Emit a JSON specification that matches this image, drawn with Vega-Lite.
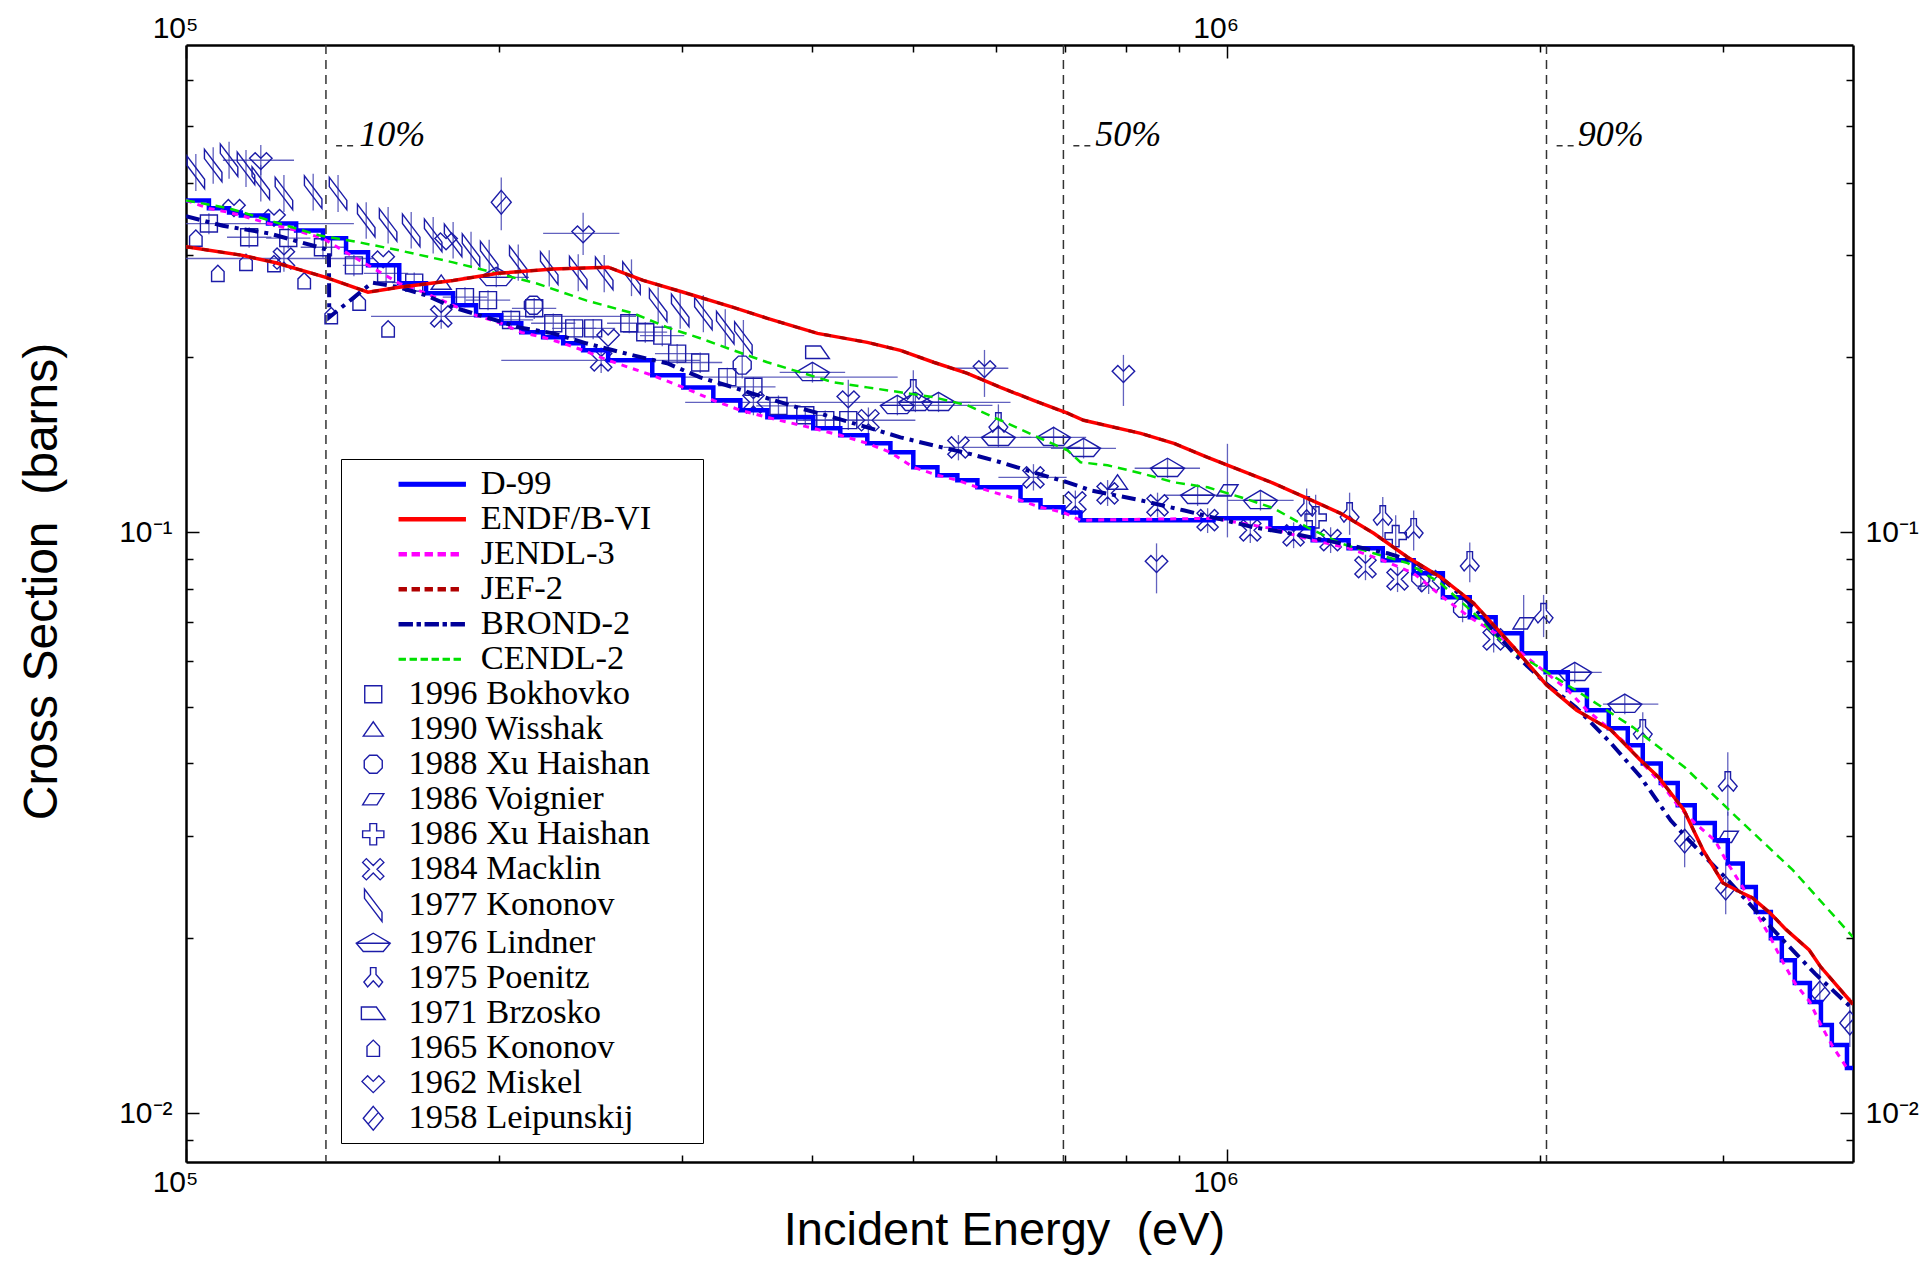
{
"$schema":"https://vega.github.io/schema/vega-lite/v6.json",
"width":1667,"height":1117,
"autosize":{"type":"none"},
"padding":{"left":186,"top":45,"right":77,"bottom":100},
"background":"white",
"config":{"view":{"stroke":null},"axis":{"grid":false},
 "legend":{"orient":"none","legendX":155,"legendY":414,"direction":"vertical","padding":8,"strokeColor":"black","fillColor":"white",
   "symbolSize":625,"symbolOffset":7,"labelOffset":18,"labelFont":"Liberation Serif","labelFontSize":34.5,"labelColor":"black","labelLimit":800,"rowPadding":0,"symbolStrokeWidth":1.4}},
"datasets":{
"pct":[
{"p":"10%","E":136300,"a":139400,"b":146000,"t":146700,"y":0.463},
{"p":"50%","E":697000,"a":712500,"b":744800,"t":748000,"y":0.463},
{"p":"90%","E":2030000,"a":2076000,"b":2165000,"t":2175000,"y":0.463}
],
"d99":[
{"E":100000,"s":0.3727},{"E":105200,"s":0.3611},{"E":110000,"s":0.3553},{"E":112900,"s":0.3511},{"E":119900,"s":0.3402},{"E":127600,"s":0.3309},{"E":135400,"s":0.3206},{"E":142500,"s":0.3033},{"E":149600,"s":0.2882},{"E":160300,"s":0.2683},{"E":170100,"s":0.2579},{"E":180600,"s":0.2459},{"E":190000,"s":0.2363},{"E":200900,"s":0.2289},{"E":210000,"s":0.2209},{"E":220400,"s":0.2166},{"E":230400,"s":0.2115},{"E":240800,"s":0.2057},{"E":254500,"s":0.1977},{"E":280600,"s":0.1863},{"E":300600,"s":0.1776},{"E":321200,"s":0.1687},{"E":341000,"s":0.1622},{"E":362000,"s":0.1577},{"E":400700,"s":0.151},{"E":425400,"s":0.1469},{"E":451600,"s":0.1423},{"E":475300,"s":0.1373},{"E":500000,"s":0.1294},{"E":527400,"s":0.1254},{"E":551200,"s":0.1229},{"E":576200,"s":0.1195},{"E":633900,"s":0.1135},{"E":662600,"s":0.1104},{"E":697100,"s":0.1082},{"E":723800,"s":0.1049},{"E":971600,"s":0.1057},{"E":1102000,"s":0.1016},{"E":1210000,"s":0.0969},{"E":1310000,"s":0.0939},{"E":1413000,"s":0.0895},{"E":1513000,"s":0.085},{"E":1614000,"s":0.0773},{"E":1713000,"s":0.0714},{"E":1814000,"s":0.067},{"E":1922000,"s":0.0619},{"E":2026000,"s":0.0574},{"E":2128000,"s":0.0535},{"E":2220000,"s":0.0494},{"E":2330000,"s":0.046},{"E":2430000,"s":0.043},{"E":2512000,"s":0.04},{"E":2614000,"s":0.037},{"E":2714000,"s":0.0339},{"E":2818000,"s":0.0316},{"E":2946000,"s":0.0295},{"E":3032000,"s":0.0269},{"E":3134000,"s":0.0245},{"E":3226000,"s":0.0222},{"E":3335000,"s":0.02},{"E":3417000,"s":0.01834},{"E":3517000,"s":0.01675},{"E":3636000,"s":0.01553},{"E":3726000,"s":0.01418},{"E":3817000,"s":0.0131},{"E":3947000,"s":0.01196},{"E":4000000,"s":0.01196}
],
"jendl":[
{"E":100000,"s":0.3727},{"E":105200,"s":0.3611},{"E":110000,"s":0.3553},{"E":112900,"s":0.3511},{"E":119900,"s":0.3402},{"E":127600,"s":0.3309},{"E":135400,"s":0.3206},{"E":142500,"s":0.3033},{"E":149600,"s":0.2882},{"E":160300,"s":0.2683},{"E":170100,"s":0.2579},{"E":180600,"s":0.2459},{"E":190000,"s":0.2363},{"E":200900,"s":0.2289},{"E":210000,"s":0.2209},{"E":220400,"s":0.2166},{"E":230400,"s":0.2115},{"E":240800,"s":0.2057},{"E":254500,"s":0.1977},{"E":280600,"s":0.1863},{"E":300600,"s":0.1776},{"E":321200,"s":0.1687},{"E":341000,"s":0.1622},{"E":362000,"s":0.1577},{"E":400700,"s":0.151},{"E":425400,"s":0.1469},{"E":451600,"s":0.1423},{"E":475300,"s":0.1373},{"E":500000,"s":0.1294},{"E":527400,"s":0.1254},{"E":551200,"s":0.1229},{"E":576200,"s":0.1195},{"E":633900,"s":0.1135},{"E":662600,"s":0.1104},{"E":697100,"s":0.1082},{"E":723800,"s":0.1049},{"E":971600,"s":0.1057},{"E":1102000,"s":0.1016},{"E":1210000,"s":0.0969},{"E":1310000,"s":0.0939},{"E":1413000,"s":0.0895},{"E":1513000,"s":0.085},{"E":1614000,"s":0.0773},{"E":1713000,"s":0.0714},{"E":1814000,"s":0.067},{"E":1922000,"s":0.0619},{"E":2026000,"s":0.0574},{"E":2128000,"s":0.0535},{"E":2220000,"s":0.0494},{"E":2330000,"s":0.046},{"E":2430000,"s":0.043},{"E":2512000,"s":0.04},{"E":2614000,"s":0.037},{"E":2714000,"s":0.0339},{"E":2818000,"s":0.0316},{"E":2946000,"s":0.0295},{"E":3032000,"s":0.0269},{"E":3134000,"s":0.0245},{"E":3226000,"s":0.0222},{"E":3335000,"s":0.02},{"E":3417000,"s":0.01834},{"E":3517000,"s":0.01675},{"E":3636000,"s":0.01553},{"E":3726000,"s":0.01418},{"E":3817000,"s":0.0131},{"E":3947000,"s":0.01196}
],
"endf":[
{"E":100000,"s":0.31},{"E":113000,"s":0.30},{"E":122000,"s":0.291},{"E":136000,"s":0.275},{"E":149600,"s":0.259},{"E":160300,"s":0.2641},{"E":180600,"s":0.2714},{"E":199500,"s":0.2791},{"E":225400,"s":0.284},{"E":254500,"s":0.286},{"E":275000,"s":0.2714},{"E":300600,"s":0.2589},{"E":335700,"s":0.2439},{"E":362000,"s":0.2335},{"E":404500,"s":0.22},{"E":451600,"s":0.2123},{"E":485900,"s":0.2057},{"E":522900,"s":0.1962},{"E":563600,"s":0.1878},{"E":606400,"s":0.1776},{"E":652300,"s":0.1687},{"E":703300,"s":0.1603},{"E":728800,"s":0.1559},{"E":827000,"s":0.148},{"E":890000,"s":0.1423},{"E":959000,"s":0.1346},{"E":1032000,"s":0.1278},{"E":1110000,"s":0.1214},{"E":1196000,"s":0.1144},{"E":1287000,"s":0.1078},{"E":1385000,"s":0.0996},{"E":1493000,"s":0.0906},{"E":1606000,"s":0.0837},{"E":1728000,"s":0.0755},{"E":1888000,"s":0.0634},{"E":2030000,"s":0.0546},{"E":2170000,"s":0.0494},{"E":2340000,"s":0.0457},{"E":2500000,"s":0.0405},{"E":2600000,"s":0.0379},{"E":2750000,"s":0.0333},{"E":2870000,"s":0.0284},{"E":3000000,"s":0.0249},{"E":3120000,"s":0.024},{"E":3200000,"s":0.0235},{"E":3330000,"s":0.0221},{"E":3450000,"s":0.0207},{"E":3630000,"s":0.0191},{"E":3720000,"s":0.0179},{"E":4000000,"s":0.0154}
],
"jef":[
{"E":100000,"s":0.31},{"E":113000,"s":0.30},{"E":122000,"s":0.291},{"E":136000,"s":0.275},{"E":149600,"s":0.259},{"E":160300,"s":0.2641},{"E":180600,"s":0.2714},{"E":199500,"s":0.2791},{"E":225400,"s":0.284},{"E":254500,"s":0.286},{"E":275000,"s":0.2714},{"E":300600,"s":0.2589},{"E":335700,"s":0.2439},{"E":362000,"s":0.2335},{"E":404500,"s":0.22},{"E":451600,"s":0.2123},{"E":485900,"s":0.2057},{"E":522900,"s":0.1962},{"E":563600,"s":0.1878},{"E":606400,"s":0.1776},{"E":652300,"s":0.1687},{"E":703300,"s":0.1603},{"E":728800,"s":0.1559},{"E":827000,"s":0.148},{"E":890000,"s":0.1423},{"E":959000,"s":0.1346},{"E":1032000,"s":0.1278},{"E":1110000,"s":0.1214},{"E":1196000,"s":0.1144},{"E":1287000,"s":0.1078},{"E":1385000,"s":0.0996},{"E":1493000,"s":0.0906},{"E":1606000,"s":0.0837},{"E":1728000,"s":0.0755},{"E":1888000,"s":0.0634},{"E":2030000,"s":0.0546},{"E":2170000,"s":0.0494},{"E":2340000,"s":0.0457},{"E":2500000,"s":0.0405},{"E":2600000,"s":0.0379},{"E":2750000,"s":0.0333},{"E":2870000,"s":0.0284},{"E":3000000,"s":0.0249},{"E":3120000,"s":0.024},{"E":3200000,"s":0.0235},{"E":3330000,"s":0.0221},{"E":3450000,"s":0.0207},{"E":3630000,"s":0.0191},{"E":3720000,"s":0.0179},{"E":4000000,"s":0.0154}
],
"brond":[
{"E":100000,"s":0.35},{"E":108500,"s":0.337},{"E":120200,"s":0.3269},{"E":134200,"s":0.3095},{"E":137200,"s":0.3057},{"E":137300,"s":0.2345},{"E":151000,"s":0.269},{"E":160300,"s":0.2641},{"E":170100,"s":0.2558},{"E":180600,"s":0.2439},{"E":194300,"s":0.2345},{"E":209000,"s":0.2253},{"E":225400,"s":0.22},{"E":242400,"s":0.2115},{"E":269100,"s":0.2016},{"E":290000,"s":0.1954},{"E":312000,"s":0.1848},{"E":335700,"s":0.1776},{"E":362000,"s":0.1701},{"E":389400,"s":0.1635},{"E":419000,"s":0.1577},{"E":451600,"s":0.1516},{"E":485900,"s":0.1457},{"E":522900,"s":0.1411},{"E":563600,"s":0.1368},{"E":606400,"s":0.132},{"E":652300,"s":0.1268},{"E":703300,"s":0.1219},{"E":740000,"s":0.1181},{"E":827000,"s":0.1135},{"E":909000,"s":0.1091},{"E":1062000,"s":0.102},{"E":1179000,"s":0.0988},{"E":1287000,"s":0.0957},{"E":1428000,"s":0.092},{"E":1503000,"s":0.0895},{"E":1606000,"s":0.0837},{"E":1728000,"s":0.0743},{"E":1888000,"s":0.0619},{"E":2026000,"s":0.055},{"E":2166000,"s":0.05},{"E":2340000,"s":0.0434},{"E":2500000,"s":0.0379},{"E":2673000,"s":0.0319},{"E":2782000,"s":0.0295},{"E":3032000,"s":0.0252},{"E":3335000,"s":0.0209},{"E":3676000,"s":0.0174},{"E":4000000,"s":0.0151}
],
"cendl":[
{"E":100000,"s":0.3727},{"E":110000,"s":0.3611},{"E":120200,"s":0.3443},{"E":134200,"s":0.3245},{"E":146700,"s":0.3156},{"E":160300,"s":0.3057},{"E":180600,"s":0.2915},{"E":197300,"s":0.2802},{"E":217000,"s":0.2683},{"E":242400,"s":0.2507},{"E":269100,"s":0.2382},{"E":290000,"s":0.2253},{"E":312000,"s":0.2158},{"E":335700,"s":0.2057},{"E":362000,"s":0.1962},{"E":389400,"s":0.1885},{"E":419000,"s":0.1812},{"E":451600,"s":0.1776},{"E":485900,"s":0.1742},{"E":522900,"s":0.1708},{"E":563600,"s":0.1654},{"E":606400,"s":0.1559},{"E":652300,"s":0.1469},{"E":703300,"s":0.1384},{"E":723800,"s":0.132},{"E":768600,"s":0.1304},{"E":827000,"s":0.1264},{"E":890000,"s":0.1219},{"E":959000,"s":0.1195},{"E":1032000,"s":0.1149},{"E":1110000,"s":0.11},{"E":1196000,"s":0.102},{"E":1287000,"s":0.0957},{"E":1385000,"s":0.092},{"E":1493000,"s":0.0885},{"E":1606000,"s":0.0817},{"E":1728000,"s":0.0726},{"E":1888000,"s":0.0619},{"E":1969000,"s":0.0595},{"E":2190000,"s":0.0528},{"E":2457000,"s":0.0462},{"E":2756000,"s":0.0394},{"E":3093000,"s":0.0323},{"E":3502000,"s":0.0262},{"E":4000000,"s":0.0201}
],
"exp":[
{"g":"1977 Kononov","E":102200,"s":0.4165,"lo":0.387,"hi":0.448},
{"g":"1977 Kononov","E":106200,"s":0.428,"lo":0.398,"hi":0.46},
{"g":"1977 Kononov","E":110000,"s":0.437,"lo":0.406,"hi":0.47},
{"g":"1977 Kononov","E":114200,"s":0.423,"lo":0.393,"hi":0.455},
{"g":"1977 Kononov","E":118000,"s":0.399,"lo":0.371,"hi":0.429},
{"g":"1977 Kononov","E":124200,"s":0.383,"lo":0.356,"hi":0.412},
{"g":"1977 Kononov","E":132500,"s":0.385,"lo":0.358,"hi":0.414},
{"g":"1977 Kononov","E":140000,"s":0.383,"lo":0.356,"hi":0.412},
{"g":"1977 Kononov","E":149000,"s":0.344,"lo":0.32,"hi":0.37},
{"g":"1977 Kononov","E":156400,"s":0.338,"lo":0.314,"hi":0.363},
{"g":"1977 Kononov","E":164600,"s":0.331,"lo":0.308,"hi":0.356},
{"g":"1977 Kononov","E":172800,"s":0.3245,"lo":0.302,"hi":0.349},
{"g":"1977 Kononov","E":180600,"s":0.318,"lo":0.296,"hi":0.342},
{"g":"1977 Kononov","E":187900,"s":0.306,"lo":0.285,"hi":0.329},
{"g":"1977 Kononov","E":195600,"s":0.297,"lo":0.276,"hi":0.319},
{"g":"1977 Kononov","E":208600,"s":0.2915,"lo":0.271,"hi":0.313},
{"g":"1977 Kononov","E":223400,"s":0.285,"lo":0.265,"hi":0.306},
{"g":"1977 Kononov","E":238200,"s":0.28,"lo":0.26,"hi":0.301},
{"g":"1977 Kononov","E":252300,"s":0.279,"lo":0.259,"hi":0.3},
{"g":"1977 Kononov","E":268000,"s":0.274,"lo":0.255,"hi":0.295},
{"g":"1977 Kononov","E":284300,"s":0.246,"lo":0.229,"hi":0.264},
{"g":"1977 Kononov","E":298500,"s":0.241,"lo":0.224,"hi":0.259},
{"g":"1977 Kononov","E":314200,"s":0.238,"lo":0.221,"hi":0.256},
{"g":"1977 Kononov","E":329800,"s":0.225,"lo":0.209,"hi":0.242},
{"g":"1977 Kononov","E":343300,"s":0.216,"lo":0.201,"hi":0.232},
{"g":"1996 Bokhovko","E":105200,"s":0.34,"lo":0.326,"hi":0.354,"el":100000,"eh":145000},
{"g":"1996 Bokhovko","E":115000,"s":0.322,"lo":0.309,"hi":0.335,"el":109500,"eh":120800},
{"g":"1996 Bokhovko","E":125400,"s":0.321,"lo":0.308,"hi":0.334,"el":119400,"eh":131700},
{"g":"1996 Bokhovko","E":135400,"s":0.3095,"lo":0.297,"hi":0.322,"el":128900,"eh":142200},
{"g":"1996 Bokhovko","E":145000,"s":0.288,"lo":0.276,"hi":0.3,"el":141500,"eh":160600},
{"g":"1996 Bokhovko","E":155700,"s":0.279,"lo":0.268,"hi":0.29,"el":148200,"eh":163500},
{"g":"1996 Bokhovko","E":165700,"s":0.269,"lo":0.258,"hi":0.28,"el":157700,"eh":174000},
{"g":"1996 Bokhovko","E":185400,"s":0.254,"lo":0.244,"hi":0.264,"el":176500,"eh":194700},
{"g":"1996 Bokhovko","E":195100,"s":0.251,"lo":0.241,"hi":0.261,"el":185700,"eh":204900},
{"g":"1996 Bokhovko","E":205300,"s":0.232,"lo":0.223,"hi":0.241,"el":195400,"eh":215600},
{"g":"1996 Bokhovko","E":216100,"s":0.243,"lo":0.233,"hi":0.253,"el":205700,"eh":226900},
{"g":"1996 Bokhovko","E":225400,"s":0.229,"lo":0.22,"hi":0.238,"el":214600,"eh":236700},
{"g":"1996 Bokhovko","E":236100,"s":0.2244,"lo":0.215,"hi":0.233,"el":224800,"eh":247900},
{"g":"1996 Bokhovko","E":246200,"s":0.2244,"lo":0.215,"hi":0.233,"el":234400,"eh":258500},
{"g":"1996 Bokhovko","E":266700,"s":0.229,"lo":0.22,"hi":0.238,"el":253900,"eh":280000},
{"g":"1996 Bokhovko","E":276300,"s":0.221,"lo":0.212,"hi":0.23,"el":263000,"eh":290000},
{"g":"1996 Bokhovko","E":286900,"s":0.218,"lo":0.209,"hi":0.227,"el":273100,"eh":301200},
{"g":"1996 Bokhovko","E":296500,"s":0.203,"lo":0.195,"hi":0.211,"el":282300,"eh":311300},
{"g":"1996 Bokhovko","E":312000,"s":0.196,"lo":0.188,"hi":0.204,"el":297000,"eh":327600},
{"g":"1996 Bokhovko","E":331300,"s":0.185,"lo":0.178,"hi":0.192,"el":299000,"eh":483000},
{"g":"1996 Bokhovko","E":351000,"s":0.178,"lo":0.171,"hi":0.185,"el":334200,"eh":368600},
{"g":"1996 Bokhovko","E":371000,"s":0.165,"lo":0.158,"hi":0.172,"el":353200,"eh":389600},
{"g":"1996 Bokhovko","E":393700,"s":0.159,"lo":0.153,"hi":0.165,"el":374800,"eh":413400},
{"g":"1996 Bokhovko","E":411500,"s":0.156,"lo":0.15,"hi":0.162,"el":391700,"eh":432100},
{"g":"1996 Bokhovko","E":433000,"s":0.156,"lo":0.15,"hi":0.162,"el":412200,"eh":454700},
{"g":"1965 Kononov","E":102200,"s":0.321},
{"g":"1965 Kononov","E":107300,"s":0.279},
{"g":"1965 Kononov","E":114200,"s":0.2915},
{"g":"1965 Kononov","E":121500,"s":0.29},
{"g":"1965 Kononov","E":129900,"s":0.271},
{"g":"1965 Kononov","E":137900,"s":0.236},
{"g":"1965 Kononov","E":146700,"s":0.249},
{"g":"1965 Kononov","E":156400,"s":0.224},
{"g":"1962 Miskel","E":118000,"s":0.437,"lo":0.412,"hi":0.464,"el":108500,"eh":127000},
{"g":"1962 Miskel","E":111200,"s":0.363},
{"g":"1962 Miskel","E":121500,"s":0.349},
{"g":"1962 Miskel","E":154700,"s":0.296},
{"g":"1962 Miskel","E":177800,"s":0.318},
{"g":"1962 Miskel","E":240800,"s":0.327,"lo":0.3,"hi":0.355,"el":220400,"eh":260900},
{"g":"1962 Miskel","E":254500,"s":0.217},
{"g":"1962 Miskel","E":433000,"s":0.17,"lo":0.156,"hi":0.183},
{"g":"1962 Miskel","E":585300,"s":0.1916,"lo":0.171,"hi":0.206,"el":548800,"eh":617000},
{"g":"1962 Miskel","E":796000,"s":0.188,"lo":0.165,"hi":0.202},
{"g":"1962 Miskel","E":856500,"s":0.0885,"lo":0.0785,"hi":0.0957},
{"g":"1984 Macklin","E":124200,"s":0.296,"lo":0.281,"hi":0.311,"el":100000,"eh":151300},
{"g":"1984 Macklin","E":175900,"s":0.2354,"lo":0.224,"hi":0.247,"el":150600,"eh":270800},
{"g":"1984 Macklin","E":250600,"s":0.1977,"lo":0.188,"hi":0.208,"el":200900,"eh":312000},
{"g":"1984 Macklin","E":351000,"s":0.1674,"lo":0.159,"hi":0.176,"el":301800,"eh":400700},
{"g":"1984 Macklin","E":452700,"s":0.1559,"lo":0.148,"hi":0.164,"el":386900,"eh":502300},
{"g":"1984 Macklin","E":552500,"s":0.14,"lo":0.133,"hi":0.147,"el":534500,"eh":723800},
{"g":"1984 Macklin","E":652300,"s":0.1243,"lo":0.118,"hi":0.131,"el":603600,"eh":702000},
{"g":"1984 Macklin","E":715700,"s":0.1126,"lo":0.107,"hi":0.118},
{"g":"1984 Macklin","E":768600,"s":0.1167,"lo":0.111,"hi":0.123},
{"g":"1984 Macklin","E":858400,"s":0.1113,"lo":0.106,"hi":0.117},
{"g":"1984 Macklin","E":959000,"s":0.1049,"lo":0.0997,"hi":0.11},
{"g":"1984 Macklin","E":1054000,"s":0.1008,"lo":0.0958,"hi":0.106},
{"g":"1984 Macklin","E":1160000,"s":0.0988,"lo":0.0939,"hi":0.104},
{"g":"1984 Macklin","E":1259000,"s":0.0969,"lo":0.0921,"hi":0.102},
{"g":"1984 Macklin","E":1360000,"s":0.0871,"lo":0.0827,"hi":0.0915},
{"g":"1984 Macklin","E":1460000,"s":0.083,"lo":0.0789,"hi":0.0872},
{"g":"1984 Macklin","E":1564000,"s":0.0824,"lo":0.0783,"hi":0.0865},
{"g":"1984 Macklin","E":1806000,"s":0.0654,"lo":0.0621,"hi":0.0687},
{"g":"1976 Lindner","E":198700,"s":0.2747,"lo":0.264,"hi":0.286,"el":184800,"eh":213600},
{"g":"1976 Lindner","E":400000,"s":0.1885,"lo":0.181,"hi":0.196,"el":372000,"eh":430000},
{"g":"1976 Lindner","E":482700,"s":0.1654,"lo":0.159,"hi":0.172,"el":468000,"eh":595700},
{"g":"1976 Lindner","E":502300,"s":0.1674,"lo":0.161,"hi":0.174,"el":400700,"eh":620000},
{"g":"1976 Lindner","E":528700,"s":0.1674,"lo":0.161,"hi":0.174,"el":492000,"eh":568000},
{"g":"1976 Lindner","E":603600,"s":0.1457,"lo":0.14,"hi":0.152,"el":561000,"eh":649000},
{"g":"1976 Lindner","E":682000,"s":0.1457,"lo":0.14,"hi":0.152,"el":634000,"eh":733000},
{"g":"1976 Lindner","E":728800,"s":0.1395,"lo":0.134,"hi":0.145,"el":678000,"eh":783000},
{"g":"1976 Lindner","E":877600,"s":0.1289,"lo":0.124,"hi":0.134,"el":816000,"eh":943000},
{"g":"1976 Lindner","E":938000,"s":0.1158,"lo":0.111,"hi":0.12,"el":872000,"eh":1008000},
{"g":"1976 Lindner","E":1078000,"s":0.1135,"lo":0.109,"hi":0.118,"el":1003000,"eh":1160000},
{"g":"1976 Lindner","E":2161000,"s":0.0574,"lo":0.0551,"hi":0.0597,"el":2050000,"eh":2294000},
{"g":"1976 Lindner","E":2414000,"s":0.0506,"lo":0.0486,"hi":0.0526,"el":2300000,"eh":2600000},
{"g":"1975 Poenitz","E":500000,"s":0.1755,"lo":0.162,"hi":0.19},
{"g":"1975 Poenitz","E":603600,"s":0.154,"lo":0.142,"hi":0.166},
{"g":"1975 Poenitz","E":1194000,"s":0.1104,"lo":0.102,"hi":0.119},
{"g":"1975 Poenitz","E":1313000,"s":0.1078,"lo":0.099,"hi":0.117},
{"g":"1975 Poenitz","E":1413000,"s":0.1065,"lo":0.098,"hi":0.115},
{"g":"1975 Poenitz","E":1513000,"s":0.1012,"lo":0.093,"hi":0.109},
{"g":"1975 Poenitz","E":1713000,"s":0.0888,"lo":0.082,"hi":0.096},
{"g":"1975 Poenitz","E":2017000,"s":0.0723,"lo":0.066,"hi":0.078},
{"g":"1975 Poenitz","E":2512000,"s":0.0456,"lo":0.042,"hi":0.049},
{"g":"1975 Poenitz","E":3032000,"s":0.0371,"lo":0.0325,"hi":0.0418},
{"g":"1986 Xu Haishan","E":1218000,"s":0.1061,"lo":0.097,"hi":0.116},
{"g":"1986 Xu Haishan","E":1454000,"s":0.0985,"lo":0.09,"hi":0.107},
{"g":"1988 Xu Haishan","E":342400,"s":0.194,"lo":0.184,"hi":0.204},
{"g":"1988 Xu Haishan","E":215700,"s":0.246},
{"g":"1988 Xu Haishan","E":1537000,"s":0.0837,"lo":0.079,"hi":0.088},
{"g":"1988 Xu Haishan","E":1686000,"s":0.074,"lo":0.07,"hi":0.078},
{"g":"1990 Wisshak","E":175900,"s":0.2693},
{"g":"1990 Wisshak","E":785700,"s":0.1219},
{"g":"1986 Voignier","E":1002000,"s":0.1181,"lo":0.098,"hi":0.142},
{"g":"1986 Voignier","E":1930000,"s":0.0697,"lo":0.062,"hi":0.078},
{"g":"1986 Voignier","E":3032000,"s":0.0299,"lo":0.027,"hi":0.033},
{"g":"1971 Brzosko","E":404500,"s":0.2041},
{"g":"1958 Leipunskij","E":200900,"s":0.37,"lo":0.331,"hi":0.408},
{"g":"1958 Leipunskij","E":2756000,"s":0.0294,"lo":0.0265,"hi":0.0325},
{"g":"1958 Leipunskij","E":3018000,"s":0.0244,"lo":0.022,"hi":0.027},
{"g":"1958 Leipunskij","E":3717000,"s":0.0161,"lo":0.0146,"hi":0.0178},
{"g":"1958 Leipunskij","E":3972000,"s":0.0143,"lo":0.013,"hi":0.0158}
]
},
"resolve":{"axis":{"x":"independent","y":"independent"}},
"layer":[
{"data":{"name":"pct"},"mark":{"type":"rule","strokeDash":[9,6],"color":"#333333","strokeWidth":1.5},
 "encoding":{"x":{"field":"E","type":"quantitative","scale":{"type":"log","domain":[100000,4000000],"nice":false},"axis":null}}},
{"data":{"name":"pct"},"mark":{"type":"rule","strokeDash":[6,5],"color":"#333333","strokeWidth":1.5},
 "encoding":{"x":{"field":"a","type":"quantitative","scale":{"type":"log","domain":[100000,4000000],"nice":false},"axis":null},"x2":{"field":"b"},
 "y":{"field":"y","type":"quantitative","scale":{"type":"log","domain":[0.00824,0.69],"nice":false},"axis":null}}},
{"data":{"name":"pct"},"mark":{"type":"text","align":"left","baseline":"alphabetic","font":"Liberation Serif","fontStyle":"italic","fontSize":36,"color":"black"},
 "encoding":{"x":{"field":"t","type":"quantitative","scale":{"type":"log","domain":[100000,4000000],"nice":false},"axis":null},
 "y":{"field":"y","type":"quantitative","scale":{"type":"log","domain":[0.00824,0.69],"nice":false},"axis":null},"text":{"field":"p"}}},
{"data":{"name":"exp"},"transform":[{"filter":"isValid(datum.el)"}],"mark":{"type":"rule","color":"#4646b4","strokeWidth":1.3,"opacity":0.85,"clip":true},
 "encoding":{"x":{"field":"el","type":"quantitative","scale":{"type":"log","domain":[100000,4000000],"nice":false},"axis":null},"x2":{"field":"eh"},
 "y":{"field":"s","type":"quantitative","scale":{"type":"log","domain":[0.00824,0.69],"nice":false},"axis":null}}},
{"data":{"name":"exp"},"transform":[{"filter":"isValid(datum.lo)"}],"mark":{"type":"rule","color":"#4646b4","strokeWidth":1.3,"opacity":0.85,"clip":true},
 "encoding":{"x":{"field":"E","type":"quantitative","scale":{"type":"log","domain":[100000,4000000],"nice":false},
   "axis":{"orient":"bottom","values":[100000,200000,300000,400000,500000,600000,700000,800000,900000,1000000,2000000,3000000],
   "labelExpr":"datum.value == 100000 ? '10⁵' : (datum.value == 1000000 ? '10⁶' : '')",
   "tickSize":{"condition":{"test":"datum.value == 100000 || datum.value == 1000000","value":-13},"value":-7},
   "tickWidth":1.5,"tickColor":"black","domainColor":"black","domainWidth":2.5,"labelFont":"Liberation Sans","labelFontSize":30,"labelColor":"black",
   "labelPadding":18,"labelAlign":"right","labelOffset":12,"labelFlush":false,"labelOverlap":false,"grid":false,
   "title":"Incident Energy\u00a0\u00a0(eV)","titleFont":"Liberation Sans","titleFontSize":47,"titleFontWeight":"normal","titleColor":"black",
   "titleX":818,"titleY":82,"titleAlign":"center","titleBaseline":"alphabetic"}},
 "y":{"field":"lo","type":"quantitative","scale":{"type":"log","domain":[0.00824,0.69],"nice":false},
   "axis":{"orient":"left","values":[0.009,0.01,0.02,0.03,0.04,0.05,0.06,0.07,0.08,0.09,0.1,0.2,0.3,0.4,0.5,0.6],
   "labelExpr":"datum.value == 0.01 ? '10⁻²' : (datum.value == 0.1 ? '10⁻¹' : '')",
   "tickSize":{"condition":{"test":"datum.value == 0.01 || datum.value == 0.1","value":-13},"value":-7},
   "tickWidth":1.5,"tickColor":"black","domainColor":"black","domainWidth":2.5,"labelFont":"Liberation Sans","labelFontSize":30,"labelColor":"black",
   "labelPadding":27,"labelFlush":false,"labelOverlap":false,"grid":false,
   "title":"Cross Section\u00a0\u00a0(barns)","titleFont":"Liberation Sans","titleFontSize":48,"titleFontWeight":"normal","titleColor":"black",
   "titleX":-130,"titleY":536,"titleAngle":-90,"titleAlign":"center","titleBaseline":"alphabetic"}},
 "y2":{"field":"hi"}}},
{"data":{"name":"exp"},"mark":{"type":"point","filled":false,"size":625,"strokeWidth":1.4,"opacity":1,"clip":true},
 "encoding":{"x":{"field":"E","type":"quantitative","scale":{"type":"log","domain":[100000,4000000],"nice":false},
   "axis":{"orient":"top","values":[100000,200000,300000,400000,500000,600000,700000,800000,900000,1000000,2000000,3000000],
   "labelExpr":"datum.value == 100000 ? '10⁵' : (datum.value == 1000000 ? '10⁶' : '')",
   "tickSize":{"condition":{"test":"datum.value == 100000 || datum.value == 1000000","value":-13},"value":-7},
   "tickWidth":1.5,"tickColor":"black","domainColor":"black","domainWidth":2.5,"labelFont":"Liberation Sans","labelFontSize":30,"labelColor":"black",
   "labelPadding":15,"labelAlign":"right","labelOffset":12,"labelFlush":false,"labelOverlap":false,"grid":false,"title":null}},
 "y":{"field":"s","type":"quantitative","scale":{"type":"log","domain":[0.00824,0.69],"nice":false},
   "axis":{"orient":"right","values":[0.009,0.01,0.02,0.03,0.04,0.05,0.06,0.07,0.08,0.09,0.1,0.2,0.3,0.4,0.5,0.6],
   "labelExpr":"datum.value == 0.01 ? '10⁻²' : (datum.value == 0.1 ? '10⁻¹' : '')",
   "tickSize":{"condition":{"test":"datum.value == 0.01 || datum.value == 0.1","value":-13},"value":-7},
   "tickWidth":1.5,"tickColor":"black","domainColor":"black","domainWidth":2.5,"labelFont":"Liberation Sans","labelFontSize":30,"labelColor":"black",
   "labelPadding":25,"labelFlush":false,"labelOverlap":false,"grid":false,"title":null}},
 "shape":{"field":"g","type":"nominal",
   "scale":{"domain":["\u2800\u2800\u00a0\u00a0\u200aD-99","\u2800\u2800\u00a0\u00a0\u200aENDF/B-VI\u00a0\u00a0\u2800","\u2800\u2800\u00a0\u00a0\u200aJENDL-3","\u2800\u2800\u00a0\u00a0\u200aJEF-2","\u2800\u2800\u00a0\u00a0\u200aBROND-2","\u2800\u2800\u00a0\u00a0\u200aCENDL-2","1996 Bokhovko","1990 Wisshak","1988 Xu Haishan","1986 Voignier","1986 Xu Haishan","1984 Macklin","1977 Kononov","1976 Lindner","1975 Poenitz","1971 Brzosko","1965 Kononov","1962 Miskel","1958 Leipunskij"],
   "range":["M2.08,-0.15H7.36V0.15H2.08Z",
   "M2.08,-0.13H7.36V0.13H2.08Z",
   "M2.08,-0.12H2.64V0.12H2.08ZM3.12,-0.12H3.68V0.12H3.12ZM4.16,-0.12H4.72V0.12H4.16ZM5.2,-0.12H5.76V0.12H5.2ZM6.24,-0.12H6.8V0.12H6.24Z",
   "M2.08,-0.12H2.64V0.12H2.08ZM3.12,-0.12H3.68V0.12H3.12ZM4.16,-0.12H4.72V0.12H4.16ZM5.2,-0.12H5.76V0.12H5.2ZM6.24,-0.12H6.8V0.12H6.24Z",
   "M2.08,-0.13H3.12V0.13H2.08ZM3.52,-0.13H3.76V0.13H3.52ZM4.16,-0.13H5.2V0.13H4.16ZM5.6,-0.13H5.84V0.13H5.6ZM6.24,-0.13H7.28V0.13H6.24Z",
   "M2.08,-0.07H2.56V0.07H2.08ZM2.96,-0.07H3.44V0.07H2.96ZM3.84,-0.07H4.32V0.07H3.84ZM4.72,-0.07H5.2V0.07H4.72ZM5.6,-0.07H6.08V0.07H5.6ZM6.48,-0.07H6.96V0.07H6.48Z",
   "M-0.68,-0.68H0.68V0.68H-0.68Z",
   "M-0.8,0.55L0,-0.6L0.8,0.55Z",
   "M-0.3,-0.72H0.3L0.72,-0.3V0.3L0.3,0.72H-0.3L-0.72,0.3V-0.3Z",
   "M-0.85,0.45L-0.3,-0.45H0.85L0.3,0.45Z",
   "M-0.27,-0.85H0.27V-0.27H0.85V0.27H0.27V0.85H-0.27V0.27H-0.85V-0.27H-0.27Z",
   "M-0.85,-0.55L-0.55,-0.85L0,-0.3L0.55,-0.85L0.85,-0.55L0.3,0L0.85,0.55L0.55,0.85L0,0.3L-0.55,0.85L-0.85,0.55L-0.3,0Z",
   "M-0.7,-1.3V-0.55L0.7,1.3V0.55Z",
   "M0,-0.8L1.36,0L0.8,0.66H-0.8L-1.36,0ZM-1.36,0H1.36",
   "M-0.22,-0.85H0.22V-0.3L0.75,0.3L0.45,0.7L0,0.2L-0.45,0.7L-0.75,0.3L-0.22,-0.3Z",
   "M-0.95,-0.5H0.25L0.95,0.5H-0.95Z",
   "M-0.5,0.65V-0.15L0,-0.65L0.5,-0.15V0.65Z",
   "M0,-0.15L0.45,-0.6L0.9,-0.15L0,0.75L-0.9,-0.15L-0.45,-0.6Z",
   "M0,-0.95L0.8,0L0,0.95L-0.8,0ZM-0.4,0.45L0.4,-0.45"]},
   "legend":{"title":null}},
 "stroke":{"field":"g","type":"nominal",
   "scale":{"domain":["\u2800\u2800\u00a0\u00a0\u200aD-99","\u2800\u2800\u00a0\u00a0\u200aENDF/B-VI\u00a0\u00a0\u2800","\u2800\u2800\u00a0\u00a0\u200aJENDL-3","\u2800\u2800\u00a0\u00a0\u200aJEF-2","\u2800\u2800\u00a0\u00a0\u200aBROND-2","\u2800\u2800\u00a0\u00a0\u200aCENDL-2","1996 Bokhovko","1990 Wisshak","1988 Xu Haishan","1986 Voignier","1986 Xu Haishan","1984 Macklin","1977 Kononov","1976 Lindner","1975 Poenitz","1971 Brzosko","1965 Kononov","1962 Miskel","1958 Leipunskij"],
   "range":["#0000ff","#ff0000","#ff00ff","#b00000","#000099","#00e000","#1c1ca8","#1c1ca8","#1c1ca8","#1c1ca8","#1c1ca8","#1c1ca8","#1c1ca8","#1c1ca8","#1c1ca8","#1c1ca8","#1c1ca8","#1c1ca8","#1c1ca8"]},
   "legend":{"title":null}},
 "fill":{"field":"g","type":"nominal",
   "scale":{"domain":["\u2800\u2800\u00a0\u00a0\u200aD-99","\u2800\u2800\u00a0\u00a0\u200aENDF/B-VI\u00a0\u00a0\u2800","\u2800\u2800\u00a0\u00a0\u200aJENDL-3","\u2800\u2800\u00a0\u00a0\u200aJEF-2","\u2800\u2800\u00a0\u00a0\u200aBROND-2","\u2800\u2800\u00a0\u00a0\u200aCENDL-2","1996 Bokhovko","1990 Wisshak","1988 Xu Haishan","1986 Voignier","1986 Xu Haishan","1984 Macklin","1977 Kononov","1976 Lindner","1975 Poenitz","1971 Brzosko","1965 Kononov","1962 Miskel","1958 Leipunskij"],
   "range":["#0000ff","#ff0000","#ff00ff","#b00000","#000099","#00e000","transparent","transparent","transparent","transparent","transparent","transparent","transparent","transparent","transparent","transparent","transparent","transparent","transparent"]},
   "legend":{"title":null}}}},
{"data":{"name":"d99"},"mark":{"type":"line","interpolate":"step-after","color":"#0000ff","strokeWidth":4.5,"clip":true},
 "encoding":{"x":{"field":"E","type":"quantitative","scale":{"type":"log","domain":[100000,4000000],"nice":false},"axis":null},
 "y":{"field":"s","type":"quantitative","scale":{"type":"log","domain":[0.00824,0.69],"nice":false},"axis":null}}},
{"data":{"name":"jendl"},"mark":{"type":"line","color":"#ff00ff","strokeWidth":3,"strokeDash":[6,6],"clip":true},
 "encoding":{"x":{"field":"E","type":"quantitative","scale":{"type":"log","domain":[100000,4000000],"nice":false},"axis":null},
 "y":{"field":"s","type":"quantitative","scale":{"type":"log","domain":[0.00824,0.69],"nice":false},"axis":null}}},
{"data":{"name":"cendl"},"mark":{"type":"line","color":"#00e000","strokeWidth":2.5,"strokeDash":[9,6],"clip":true},
 "encoding":{"x":{"field":"E","type":"quantitative","scale":{"type":"log","domain":[100000,4000000],"nice":false},"axis":null},
 "y":{"field":"s","type":"quantitative","scale":{"type":"log","domain":[0.00824,0.69],"nice":false},"axis":null}}},
{"data":{"name":"brond"},"mark":{"type":"line","color":"#000099","strokeWidth":4,"strokeDash":[14,6,4,6],"clip":true},
 "encoding":{"x":{"field":"E","type":"quantitative","scale":{"type":"log","domain":[100000,4000000],"nice":false},"axis":null},
 "y":{"field":"s","type":"quantitative","scale":{"type":"log","domain":[0.00824,0.69],"nice":false},"axis":null}}},
{"data":{"name":"endf"},"mark":{"type":"line","color":"#ff0000","strokeWidth":3.5,"clip":true},
 "encoding":{"x":{"field":"E","type":"quantitative","scale":{"type":"log","domain":[100000,4000000],"nice":false},"axis":null},
 "y":{"field":"s","type":"quantitative","scale":{"type":"log","domain":[0.00824,0.69],"nice":false},"axis":null}}},
{"data":{"name":"jef"},"mark":{"type":"line","color":"#b00000","strokeWidth":3,"strokeDash":[7,9],"clip":true},
 "encoding":{"x":{"field":"E","type":"quantitative","scale":{"type":"log","domain":[100000,4000000],"nice":false},"axis":null},
 "y":{"field":"s","type":"quantitative","scale":{"type":"log","domain":[0.00824,0.69],"nice":false},"axis":null}}}
]
}
